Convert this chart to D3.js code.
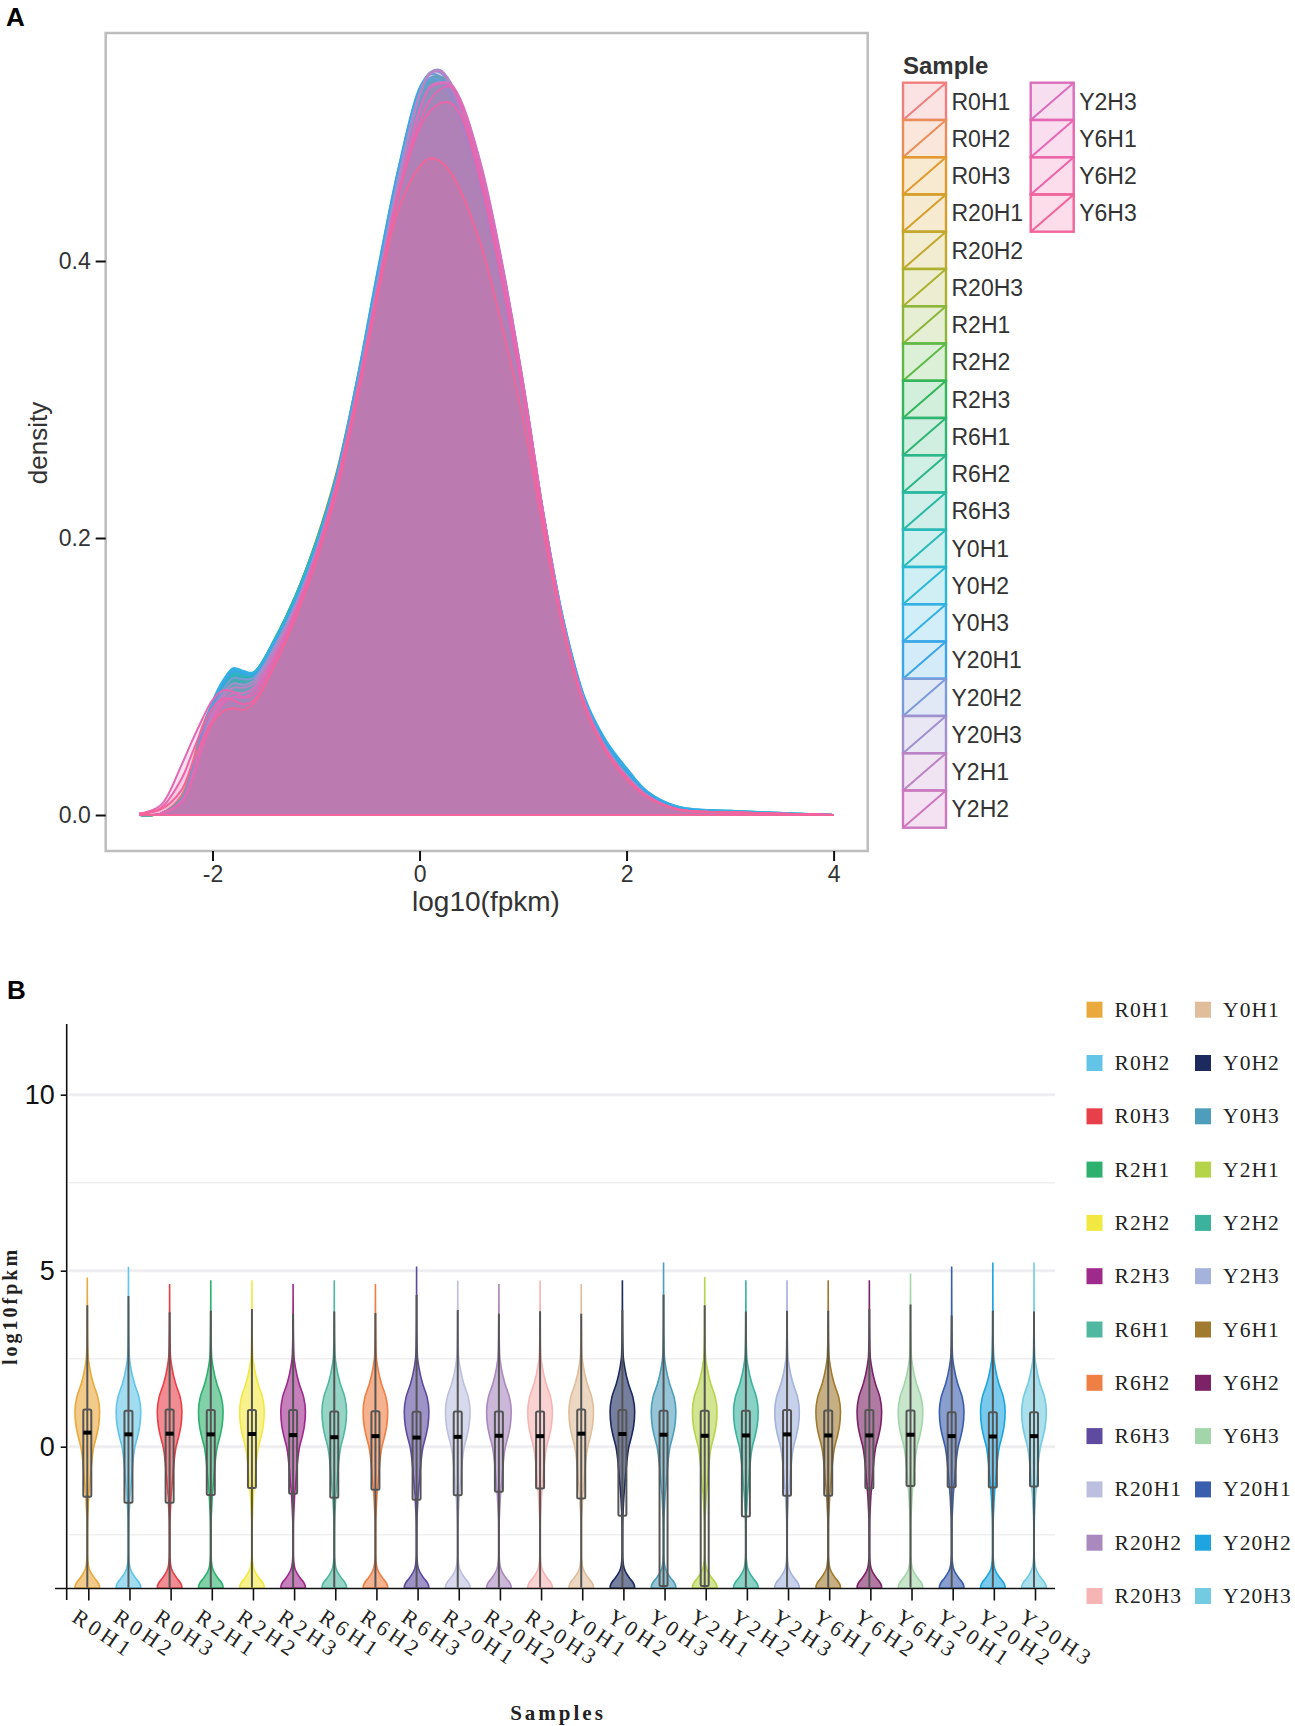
<html>
<head>
<meta charset="utf-8">
<script src="https://d3js.org/d3.v7.min.js"></script>
<style>
body {margin: 0; background: #fff;}
text {font-family: "Liberation Sans", sans-serif;}
.serif {font-family: "Liberation Serif", serif;}
</style>
</head>
<body>
<svg width="1295" height="1726"></svg>
<script>
// panel A: density curves, order as in the legend
var densityNames = ["R0H1","R0H2","R0H3","R20H1","R20H2","R20H3","R2H1","R2H2","R2H3","R6H1","R6H2","R6H3","Y0H1","Y0H2","Y0H3","Y20H1","Y20H2","Y20H3","Y2H1","Y2H2","Y2H3","Y6H1","Y6H2","Y6H3"];
var densityColors = ["#EF7F7F","#E98D5A","#E09A2E","#D5A02A","#C2A82D","#ABB02F","#8BB63A","#5EB947","#34B55A","#2EB573","#2BB68A","#2AB8A2","#2ABAB8","#29B7D2","#34B0E4","#3AA6E8","#7C9BD8","#A090CE","#BB83C4","#CC78BE","#DA6EBC","#E667B4","#EE64A8","#F2659A"];
var densityX = [-2.7,-2.5,-2.3,-2.2,-2.1,-2,-1.9,-1.8,-1.7,-1.6,-1.4,-1.2,-1,-.8,-.6,-.4,-.2,0,.1,.2,.3,.4,.6,.8,1,1.2,1.4,1.6,1.8,2,2.2,2.5,3,4];
var dR0H1 = [0,.001,.014,.036,.064,.080,.090,.094,.093,.098,.124,.156,.196,.246,.312,.386,.456,.508,.522,.525,.517,.500,.452,.386,.306,.214,.134,.079,.047,.027,.013,.004,.002,0];
var dR0H2 = [0,.001,.013,.034,.062,.079,.089,.095,.094,.099,.125,.157,.197,.247,.314,.388,.457,.510,.524,.526,.518,.501,.451,.384,.305,.213,.133,.079,.047,.027,.013,.004,.002,0];
var dR0H3 = [0,.001,.012,.033,.061,.079,.090,.096,.095,.100,.126,.158,.198,.248,.315,.389,.459,.512,.526,.527,.518,.500,.450,.382,.303,.212,.133,.078,.046,.026,.013,.004,.002,0];
var dR20H1 = [0,.001,.011,.030,.058,.076,.087,.092,.091,.096,.122,.153,.192,.242,.309,.383,.455,.512,.528,.530,.521,.503,.454,.386,.306,.214,.134,.080,.048,.028,.014,.004,.002,0];
var dR20H2 = [0,.001,.011,.029,.057,.075,.086,.091,.090,.095,.121,.152,.191,.241,.308,.382,.454,.511,.527,.529,.522,.505,.456,.388,.308,.215,.135,.081,.048,.028,.014,.004,.002,0];
var dR20H3 = [0,.001,.012,.031,.059,.077,.088,.093,.092,.097,.123,.154,.193,.243,.310,.384,.456,.513,.529,.531,.523,.505,.455,.387,.307,.214,.134,.080,.048,.028,.014,.004,.002,0];
var dR2H1 = [0,.001,.012,.032,.060,.079,.091,.098,.097,.101,.126,.157,.196,.245,.311,.385,.456,.513,.530,.532,.525,.509,.461,.391,.310,.215,.134,.080,.048,.028,.014,.004,.002,0];
var dR2H2 = [0,.001,.011,.031,.059,.078,.090,.097,.096,.100,.125,.156,.195,.244,.310,.384,.456,.514,.531,.533,.527,.511,.463,.394,.311,.216,.134,.080,.048,.028,.014,.004,.002,0];
var dR2H3 = [0,.001,.011,.030,.058,.078,.091,.099,.098,.101,.125,.156,.195,.244,.310,.385,.458,.517,.532,.533,.528,.513,.465,.396,.312,.216,.134,.080,.048,.028,.014,.004,.002,0];
var dR6H1 = [0,.001,.012,.031,.060,.079,.092,.100,.099,.102,.126,.157,.196,.245,.311,.386,.457,.514,.529,.530,.522,.505,.455,.385,.305,.212,.133,.079,.047,.027,.013,.004,.002,0];
var dR6H2 = [0,.001,.012,.032,.061,.080,.093,.101,.100,.102,.127,.158,.197,.246,.312,.387,.458,.514,.528,.529,.521,.504,.454,.384,.304,.212,.133,.079,.047,.027,.013,.004,.002,0];
var dR6H3 = [0,.001,.012,.032,.061,.081,.095,.102,.101,.103,.127,.158,.197,.246,.312,.387,.459,.515,.529,.530,.521,.503,.453,.383,.303,.211,.133,.079,.047,.027,.014,.005,.002,0];
var dY0H1 = [0,.001,.011,.030,.059,.080,.095,.103,.102,.103,.126,.157,.196,.245,.312,.388,.461,.518,.531,.531,.522,.504,.453,.383,.304,.213,.135,.081,.050,.031,.016,.005,.003,0];
var dY0H2 = [0,.001,.011,.031,.060,.081,.096,.105,.103,.103,.126,.156,.195,.245,.313,.391,.465,.522,.532,.530,.520,.502,.451,.381,.303,.214,.137,.083,.052,.033,.017,.006,.003,0];
var dY0H3 = [0,.001,.011,.031,.060,.082,.097,.106,.104,.103,.125,.155,.194,.246,.316,.395,.468,.523,.532,.530,.519,.500,.449,.380,.304,.216,.138,.084,.054,.034,.017,.006,.003,0];
var dY20H1 = [0,.001,.010,.029,.057,.078,.094,.104,.102,.101,.124,.154,.193,.245,.315,.394,.468,.525,.535,.533,.522,.503,.451,.382,.305,.216,.137,.083,.052,.032,.016,.005,.002,0];
var dY20H2 = [0,.001,.010,.028,.055,.075,.090,.099,.098,.099,.122,.152,.191,.242,.310,.388,.463,.522,.536,.536,.526,.508,.457,.387,.307,.215,.135,.081,.049,.029,.014,.004,.002,0];
var dY20H3 = [0,.001,.010,.027,.053,.073,.087,.095,.094,.097,.121,.151,.190,.240,.307,.384,.459,.520,.536,.538,.529,.512,.461,.391,.309,.215,.134,.080,.048,.028,.014,.004,.002,0];
var dY2H1 = [0,.001,.009,.026,.051,.071,.085,.092,.092,.095,.119,.150,.189,.239,.306,.383,.458,.519,.535,.537,.528,.512,.462,.393,.311,.216,.134,.080,.048,.028,.014,.004,.002,0];
var dY2H2 = [0,.001,.009,.025,.050,.069,.082,.088,.088,.092,.116,.147,.186,.236,.303,.379,.452,.510,.526,.529,.528,.516,.468,.398,.313,.217,.135,.080,.048,.028,.014,.004,.002,0];
var dY2H3 = [0,.001,.009,.024,.048,.067,.080,.085,.085,.090,.114,.145,.184,.233,.300,.376,.449,.508,.525,.528,.527,.515,.467,.397,.312,.216,.134,.079,.047,.027,.013,.004,.002,0];
var dY6H1 = [.001,.007,.036,.053,.069,.083,.090,.089,.085,.087,.113,.147,.188,.240,.307,.382,.450,.500,.516,.524,.526,.512,.460,.388,.306,.212,.132,.078,.047,.027,.013,.004,.002,0];
var dY6H2 = [.001,.005,.026,.044,.062,.077,.084,.083,.080,.083,.109,.143,.184,.236,.304,.380,.449,.496,.508,.514,.514,.505,.454,.384,.303,.210,.131,.077,.046,.026,.013,.004,.002,0];
var dY6H3 = [.001,.004,.018,.036,.054,.067,.075,.077,.076,.081,.108,.142,.183,.236,.304,.378,.438,.468,.474,.472,.464,.450,.410,.352,.286,.204,.130,.077,.046,.026,.013,.004,.002,0];
var densityValues = [dR0H1,dR0H2,dR0H3,dR20H1,dR20H2,dR20H3,dR2H1,dR2H2,dR2H3,dR6H1,dR6H2,dR6H3,dY0H1,dY0H2,dY0H3,dY20H1,dY20H2,dY20H3,dY2H1,dY2H2,dY2H3,dY6H1,dY6H2,dY6H3];

// panel B: violins, order as on the axis
var violinNames = ["R0H1","R0H2","R0H3","R2H1","R2H2","R2H3","R6H1","R6H2","R6H3","R20H1","R20H2","R20H3","Y0H1","Y0H2","Y0H3","Y2H1","Y2H2","Y2H3","Y6H1","Y6H2","Y6H3","Y20H1","Y20H2","Y20H3"];
var violinColors = ["#E9A93C","#62C5E8","#E8404A","#2EB06E","#F1E842","#9E2A8C","#50B8A0","#EE7F45","#5E4BA0","#BDBFE0","#A989BE","#F7B4B4","#E0BD9B","#1C2A5E","#4E9EBB","#B6D44A","#3BB39C","#A4B2DC","#A07A2F","#7C2266","#A2D5A9","#3A5EAE","#1EA5DF","#72CBE0"];
var violinTop =  [4.81,5.11,4.62,4.73,4.73,4.62,4.73,4.62,5.12,4.72,4.62,4.72,4.62,4.73,5.23,4.82,4.73,4.73,4.73,4.73,4.92,5.12,5.23,5.23];
var whiskerTop = [4.02,4.28,3.82,3.86,3.91,3.78,3.84,3.80,4.31,3.88,3.78,3.85,3.78,3.88,4.32,4.02,3.84,3.86,3.86,3.91,4.04,3.73,3.86,3.84];
var boxQ3 =      [1.06,1.02,1.06,1.04,1.04,1.04,1.00,1.01,.99,1.00,1.00,1.00,1.06,1.04,1.02,1.02,1.02,1.04,1.03,1.04,1.03,.98,.98,.98];
var boxMedian =  [.40,.35,.37,.35,.36,.33,.27,.30,.26,.28,.31,.30,.37,.36,.34,.31,.32,.35,.32,.32,.34,.30,.29,.30];
var boxQ1 =      [-1.42,-1.59,-1.59,-1.37,-1.17,-1.34,-1.45,-1.22,-1.51,-1.38,-1.28,-1.19,-1.47,-1.96,-3.96,-3.96,-1.98,-1.39,-1.39,-1.19,-1.12,-1.15,-1.16,-1.13];
var violinLevels = [-4.02,-3.95,-3.85,-3.75,-3.6,-3.45,-3.25,-3,-2.5,-2.1,-1.7,-1.42,-1,-.5,0,.3,.6,1,1.4,1.8,2.27,2.56,3,3.6];
var violinWidths = [1,.98,.85,.62,.33,.14,.05,.02,.02,.03,.08,.12,.22,.34,.53,.75,.92,1,.86,.48,.18,.07,.03,.01];

var legendBLeft = ["R0H1","R0H2","R0H3","R2H1","R2H2","R2H3","R6H1","R6H2","R6H3","R20H1","R20H2","R20H3"];
var legendBRight = ["Y0H1","Y0H2","Y0H3","Y2H1","Y2H2","Y2H3","Y6H1","Y6H2","Y6H3","Y20H1","Y20H2","Y20H3"];
var gridMajor = [0,5,10];
var gridMinor = [-2.5,2.5,7.5];

var svg = d3.select("svg");
var grey = "#333";

svg.append("text").text("A").attr("x",6).attr("y",26).attr("font-size",26).attr("font-weight","bold").attr("fill","#000");
svg.append("text").text("B").attr("x",7).attr("y",999).attr("font-size",26).attr("font-weight","bold").attr("fill","#000");

// ---------- panel A
var xA = d3.scaleLinear().domain([-2,4]).range([212.5,833.6]);
var yA = d3.scaleLinear().domain([0,.4]).range([815,261]);

var densityArea = d3.area()
  .x(function(d,i){return xA(densityX[i]);})
  .y0(yA(0))
  .y1(function(d){return yA(d);})
  .curve(d3.curveCatmullRom);

svg.append("g").selectAll("path")
  .data(densityValues)
  .enter().append("path")
  .attr("d",densityArea)
  .attr("fill",function(d,i){return densityColors[i];})
  .attr("fill-opacity",.19)
  .attr("stroke",function(d,i){return densityColors[i];})
  .attr("stroke-width",2);

svg.append("rect").attr("x",105.7).attr("y",33).attr("width",762).attr("height",818)
  .attr("fill","none").attr("stroke","#bdbdbd").attr("stroke-width",2.5);

var axAx = svg.append("g").attr("transform","translate(0,851)")
  .call(d3.axisBottom(xA).tickValues([-2,0,2,4]).tickFormat(function(d){return String(d);}).tickSize(10).tickSizeOuter(0));
var axAy = svg.append("g").attr("transform","translate(105.7,0)")
  .call(d3.axisLeft(yA).tickValues([0,.2,.4]).tickFormat(function(d){return d.toFixed(1);}).tickSize(10).tickSizeOuter(0));
[axAx,axAy].forEach(function(a){
  a.select(".domain").remove();
  a.selectAll("line").attr("stroke","#111").attr("stroke-width",2);
  a.selectAll("text").attr("font-size",23).attr("fill",grey).style("font-family","Liberation Sans");
});
axAx.selectAll("text").attr("dy","0.8em");
axAy.selectAll("text").attr("dx","-2");

svg.append("text").text("log10(fpkm)").attr("x",486).attr("y",911).attr("text-anchor","middle").attr("font-size",28).attr("fill",grey);
svg.append("text").text("density").attr("transform","translate(47,443) rotate(-90)").attr("text-anchor","middle").attr("font-size",26).attr("fill",grey);

// legend A
svg.append("text").text("Sample").attr("x",903).attr("y",74).attr("font-size",24).attr("font-weight","bold").attr("fill",grey);
var rowA = 37.25;
var legA = svg.append("g").selectAll("g")
  .data(densityNames)
  .enter().append("g")
  .attr("transform",function(d,i){
    var col = i < 20 ? 0 : 1;
    var row = i < 20 ? i : i - 20;
    return "translate("+(903 + col*127.7)+","+(82.7 + row*rowA)+")";
  });
legA.append("rect").attr("width",43).attr("height",rowA)
  .attr("fill",function(d,i){return densityColors[i];}).attr("fill-opacity",.22)
  .attr("stroke",function(d,i){return densityColors[i];}).attr("stroke-width",2.4);
legA.append("line").attr("x1",0).attr("y1",rowA).attr("x2",43).attr("y2",0)
  .attr("stroke",function(d,i){return densityColors[i];}).attr("stroke-width",2);
legA.append("text").text(function(d){return d;}).attr("x",48.5).attr("y",27).attr("font-size",23).attr("fill",grey);

// ---------- panel B
var xB = d3.scalePoint().domain(violinNames).range([87.3,1034]);
var yB = d3.scaleLinear().domain([0,5]).range([1446.7,1270.7]);
var widthB = d3.scaleLinear().domain([0,1]).range([0,12.3]);

svg.append("g").selectAll("line").data(gridMajor).enter().append("line")
  .attr("x1",69).attr("x2",1055).attr("y1",yB).attr("y2",yB)
  .attr("stroke","#eeeef0").attr("stroke-width",3);
svg.append("g").selectAll("line").data(gridMinor).enter().append("line")
  .attr("x1",69).attr("x2",1055).attr("y1",yB).attr("y2",yB)
  .attr("stroke","#efefef").attr("stroke-width",1.5);

var violins = svg.append("g").selectAll("g")
  .data(violinNames)
  .enter().append("g")
  .attr("transform",function(d){return "translate("+xB(d)+",0)";});

violins.append("path")
  .attr("d",function(d,i){
    var pts = [];
    violinLevels.forEach(function(v,k){
      if (v < violinTop[i]) pts.push([v,violinWidths[k]]);
    });
    pts.push([violinTop[i],0]);
    var outline = d3.area()
      .y(function(p){return yB(p[0]);})
      .x0(function(p){return -widthB(p[1]);})
      .x1(function(p){return widthB(p[1]);})
      .curve(d3.curveMonotoneY);
    return outline(pts);
  })
  .attr("fill",function(d,i){return violinColors[i];})
  .attr("fill-opacity",.6)
  .attr("stroke",function(d,i){return violinColors[i];})
  .attr("stroke-width",1.6);

violins.append("line").attr("x1",0).attr("x2",0)
  .attr("y1",function(d,i){return yB(whiskerTop[i]);}).attr("y2",yB(-4))
  .attr("stroke","#555").attr("stroke-width",2);
violins.append("rect").attr("x",-4).attr("width",8).attr("rx",1.5)
  .attr("y",function(d,i){return yB(boxQ3[i]);})
  .attr("height",function(d,i){return yB(boxQ1[i])-yB(boxQ3[i]);})
  .attr("fill","none").attr("stroke","#555").attr("stroke-width",2);
violins.append("line").attr("x1",-4).attr("x2",4)
  .attr("y1",function(d,i){return yB(boxMedian[i]);}).attr("y2",function(d,i){return yB(boxMedian[i]);})
  .attr("stroke","#000").attr("stroke-width",4);

// axes B
var axBy = svg.append("g").attr("transform","translate(66.7,0)")
  .call(d3.axisLeft(yB).tickValues(gridMajor).tickFormat(d3.format("d")).tickSize(6).tickSizeOuter(0));
axBy.select(".domain").remove();
axBy.selectAll("line").attr("stroke","#111").attr("stroke-width",1.6);
axBy.selectAll("text").attr("font-size",27).attr("fill","#111").attr("dx","-3").style("font-family","Liberation Sans");
svg.append("line").attr("x1",66.7).attr("x2",66.7).attr("y1",1024).attr("y2",1600).attr("stroke","#111").attr("stroke-width",1.6);
svg.append("line").attr("x1",55).attr("x2",1055).attr("y1",1588.5).attr("y2",1588.5).attr("stroke","#111").attr("stroke-width",1.6);

var axBx = svg.append("g").attr("transform","translate(1,1588.5)")
  .call(d3.axisBottom(xB).tickSize(12).tickSizeOuter(0));
axBx.select(".domain").remove();
axBx.selectAll("line").attr("stroke","#111").attr("stroke-width",1.6);
axBx.selectAll("text")
  .attr("class","serif")
  .attr("text-anchor","start")
  .attr("font-size",22)
  .attr("letter-spacing",4)
  .attr("fill","#222")
  .attr("dy",null)
  .attr("y",null)
  .attr("transform","translate(-18,32) rotate(34)");

svg.append("text").text("log10fpkm").attr("class","serif")
  .attr("transform","translate(17,1306) rotate(-90)").attr("text-anchor","middle")
  .attr("font-size",20).attr("font-weight","bold").attr("letter-spacing",3).attr("fill","#222");
svg.append("text").text("Samples").attr("class","serif")
  .attr("x",558).attr("y",1720).attr("text-anchor","middle")
  .attr("font-size",21).attr("font-weight","bold").attr("letter-spacing",3).attr("fill","#222");

// legend B
function legendB(names, x) {
  var g = svg.append("g").selectAll("g").data(names).enter().append("g")
    .attr("transform",function(d,i){return "translate("+x+","+(1001.7 + i*53.3)+")";});
  g.append("rect").attr("width",16).attr("height",16)
    .attr("fill",function(d){return violinColors[violinNames.indexOf(d)];});
  g.append("text").text(function(d){return d;}).attr("class","serif")
    .attr("x",28).attr("y",15).attr("font-size",21.5).attr("letter-spacing",1.1).attr("fill","#222");
}
legendB(legendBLeft,1086.5);
legendB(legendBRight,1195);
</script>
</body>
</html>
